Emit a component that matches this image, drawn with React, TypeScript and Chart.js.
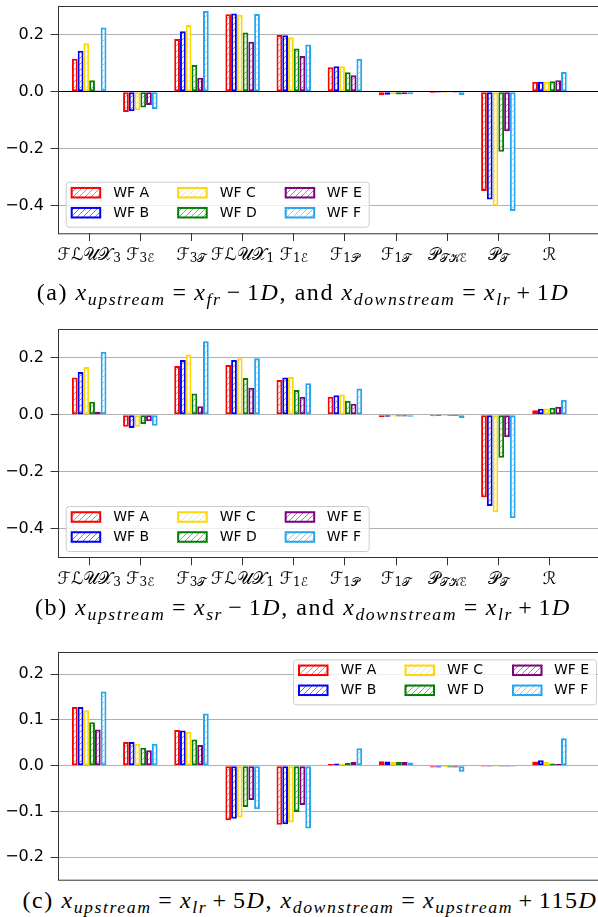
import React, { useEffect, useRef } from 'react';
import { Chart, registerables } from 'chart.js';
Chart.register(...registerables);

// ---------- data ----------
const catMain = ['ℱℒ𝒰𝒳', 'ℱ', 'ℱ', 'ℱℒ𝒰𝒳', 'ℱ', 'ℱ', 'ℱ', '𝒫', '𝒫', 'ℛ'];
const catSub = ['3', '3ℰ', '3𝒯', '1', '1ℰ', '1𝒫', '1𝒯', '𝒯𝒦ℰ', '𝒯', ''];
const seriesNames = ['WF A', 'WF B', 'WF C', 'WF D', 'WF E', 'WF F'];
const seriesColors = ['#ff0000', '#0000ff', '#ffd700', '#008000', '#800080', '#22a7f0'];

const aA = [0.116, -0.071, 0.185, 0.272, 0.199, 0.086, -0.012, -0.005, -0.348, 0.035];
const aB = [0.144, -0.069, 0.212, 0.274, 0.198, 0.089, -0.011, -0.004, -0.378, 0.035];
const aC = [0.170, -0.065, 0.234, 0.270, 0.191, 0.089, -0.009, -0.005, -0.401, 0.035];
const aD = [0.040, -0.055, 0.094, 0.208, 0.152, 0.068, -0.010, -0.003, -0.211, 0.037];
const aE = [0.004, -0.047, 0.049, 0.175, 0.125, 0.058, -0.009, -0.004, -0.139, 0.040];
const aF = [0.225, -0.061, 0.283, 0.273, 0.166, 0.116, -0.009, -0.012, -0.419, 0.069];

const bA = [0.131, -0.042, 0.171, 0.175, 0.122, 0.063, -0.008, -0.005, -0.289, 0.016];
const bB = [0.150, -0.046, 0.192, 0.192, 0.131, 0.069, -0.007, -0.004, -0.320, 0.021];
const bC = [0.168, -0.042, 0.212, 0.198, 0.133, 0.071, -0.006, -0.004, -0.342, 0.022];
const bD = [0.046, -0.032, 0.075, 0.129, 0.087, 0.049, -0.006, -0.004, -0.151, 0.025];
const bE = [0.011, -0.023, 0.030, 0.095, 0.063, 0.039, -0.006, -0.004, -0.079, 0.028];
const bF = [0.221, -0.038, 0.258, 0.198, 0.111, 0.092, -0.007, -0.011, -0.363, 0.053];

const cA = [0.128, 0.052, 0.078, -0.119, -0.129, 0.004, 0.0096, -0.004, -0.002, 0.009];
const cB = [0.128, 0.052, 0.077, -0.116, -0.128, 0.005, 0.009, -0.004, -0.002, 0.012];
const cC = [0.121, 0.048, 0.074, -0.113, -0.124, 0.005, 0.008, -0.003, -0.002, 0.008];
const cD = [0.095, 0.039, 0.057, -0.090, -0.101, 0.006, 0.008, -0.004, -0.002, 0.005];
const cE = [0.079, 0.034, 0.045, -0.075, -0.086, 0.008, 0.008, -0.004, -0.002, 0.004];
const cF = [0.162, 0.048, 0.114, -0.095, -0.137, 0.038, 0.007, -0.013, -0.002, 0.060];

const ticksAB = [-0.4, -0.2, 0, 0.2];
const ticksC = [-0.2, -0.1, 0, 0.1, 0.2];

// ---------- layout ----------
const CANVAS_W = 612;
const CHART_LEFT = 58.5;
const CHART_RIGHT = 603.2;
const X_MIN = -0.6;
const X_MAX = 10.05;

type PanelCfg = {
  top: number;
  height: number;
  chartTop: number;
  chartBottom: number;
  yMin: number;
  yMax: number;
  yTicks: number[];
  series: number[][];
  zeroBlack: boolean;
  showX: boolean;
  legendPos: 'll' | 'ur';
};

const panels: PanelCfg[] = [
  { top: 0, height: 272, chartTop: 5.7, chartBottom: 233, yMin: -0.4958, yMax: 0.3018, yTicks: ticksAB,
    series: [aA, aB, aC, aD, aE, aF], zeroBlack: true, showX: true, legendPos: 'll' },
  { top: 300, height: 296, chartTop: 329.3, chartBottom: 557.3, yMin: -0.5, yMax: 0.3, yTicks: ticksAB,
    series: [bA, bB, bC, bD, bE, bF], zeroBlack: false, showX: true, legendPos: 'll' },
  { top: 620, height: 264, chartTop: 652.3, chartBottom: 880, yMin: -0.2495, yMax: 0.2476, yTicks: ticksC,
    series: [cA, cB, cC, cD, cE, cF], zeroBlack: false, showX: false, legendPos: 'ur' },
];

function makeHatch(ctx: CanvasRenderingContext2D, color: string) {
  const t = document.createElement('canvas');
  t.width = 6; t.height = 6;
  const g = t.getContext('2d')!;
  g.fillStyle = '#ffffff';
  g.fillRect(0, 0, 6, 6);
  g.strokeStyle = color;
  g.globalAlpha = 0.55;
  g.lineWidth = 1;
  g.beginPath();
  g.moveTo(0, 6); g.lineTo(6, 0);
  g.moveTo(-1, 1); g.lineTo(1, -1);
  g.moveTo(5, 7); g.lineTo(7, 5);
  g.stroke();
  return ctx.createPattern(t, 'repeat')!;
}

const fmt = (v: number) => (v < 0 ? '\u2212' : '') + Math.abs(v).toFixed(1);

function Panel({ cfg }: { cfg: PanelCfg }) {
  const ref = useRef<HTMLCanvasElement>(null);
  useEffect(() => {
    const canvas = ref.current!;
    const ctx = canvas.getContext('2d')!;
    const patterns = seriesColors.map((c) => makeHatch(ctx, c));
    const chartTopRel = cfg.chartTop - cfg.top;
    const chartBottomRel = cfg.chartBottom - cfg.top;

    const framePlugin = {
      id: 'frame',
      afterDatasetsDraw(chart: any) {
        const { left, right, top, bottom } = chart.chartArea;
        const c = chart.ctx;
        c.save();
        c.strokeStyle = '#333333';
        c.lineWidth = 1;
        c.strokeRect(Math.round(left) + 0.5 - 1, Math.round(top) + 0.5, right - left, bottom - top);
        c.restore();
      },
    };

    const legendPlugin = {
      id: 'wfLegend',
      afterDraw(chart: any) {
        const ca = chart.chartArea;
        const c = chart.ctx;
        const bw = 303, bh = 45;
        let bx: number, by: number;
        if (cfg.legendPos === 'll') { bx = ca.left + 7.2; by = ca.bottom - 6.3 - bh; }
        else { bx = ca.right - 7.2 - bw; by = ca.top + 7; }
        c.save();
        c.fillStyle = 'rgba(255,255,255,0.8)';
        c.strokeStyle = '#cccccc';
        c.lineWidth = 1;
        c.beginPath();
        (c as any).roundRect(bx + 0.5, by + 0.5, bw, bh, 3);
        c.fill();
        c.stroke();
        const colSw = [5, 111.5, 219];
        const colTx = [47.5, 154, 261];
        const rows = [11, 31];
        c.font = '14px "DejaVu Sans"';
        c.textBaseline = 'middle';
        c.textAlign = 'left';
        for (let k = 0; k < seriesNames.length; k++) {
          const col = Math.floor(k / 2), row = k % 2;
          const sx = bx + colSw[col], sy = by + rows[row] - 5.75;
          c.fillStyle = patterns[k];
          c.fillRect(sx, sy, 30.5, 11.5);
          c.strokeStyle = seriesColors[k];
          c.lineWidth = 2;
          c.strokeRect(sx + 1, sy + 1, 28.5, 9.5);
          c.fillStyle = '#000000';
          c.fillText(seriesNames[k], bx + colTx[col], by + rows[row] + 0.5);
        }
        c.restore();
      },
    };

    const xLabelPlugin = {
      id: 'xLabels',
      afterDraw(chart: any) {
        if (!cfg.showX) return;
        const c = chart.ctx;
        const xs = chart.scales.x;
        const base = chart.chartArea.bottom + 26.5;
        c.save();
        c.fillStyle = '#000000';
        c.textBaseline = 'alphabetic';
        c.textAlign = 'left';
        const mainFont = '17px "DejaVu Serif", "DejaVu Sans", serif';
        const subFont = '12px "DejaVu Serif", "DejaVu Sans", serif';
        for (let i = 0; i < catMain.length; i++) {
          c.font = mainFont;
          const wm = c.measureText(catMain[i]).width;
          c.font = subFont;
          const ws = c.measureText(catSub[i]).width;
          const px = xs.getPixelForValue(i);
          const x0 = px - (wm + ws) / 2;
          c.font = mainFont;
          c.fillText(catMain[i], x0, base);
          c.font = subFont;
          c.fillText(catSub[i], x0 + wm, base + 2.5);
        }
        c.restore();
      },
    };

    const chart = new Chart(ctx, {
      type: 'bar',
      data: {
        datasets: cfg.series.map((vals, k) => ({
          label: seriesNames[k],
          data: vals.map((v, i) => ({ x: i, y: v })),
          backgroundColor: patterns[k],
          borderColor: seriesColors[k],
          borderWidth: 2,
          borderSkipped: false,
          categoryPercentage: 0.675,
          barPercentage: 1.0,
        })),
      },
      options: {
        animation: false,
        responsive: false,
        events: [],
        layout: {
          padding: { top: chartTopRel, bottom: 0, left: 0, right: CANVAS_W - CHART_RIGHT },
        },
        plugins: { legend: { display: false }, tooltip: { enabled: false }, title: { display: false } },
        scales: {
          x: {
            type: 'linear',
            min: X_MIN,
            max: X_MAX,
            offset: false,
            border: { display: false },
            grid: {
              display: cfg.showX,
              offset: false,
              drawOnChartArea: false,
              drawTicks: true,
              tickLength: 8,
              tickColor: '#333333',
              lineWidth: 1,
            },
            ticks: { display: false },
            afterBuildTicks: (s: any) => {
              s.ticks = catMain.map((_, i) => ({ value: i }));
            },
            afterFit: (s: any) => {
              s.height = cfg.height - chartBottomRel;
              s.paddingLeft = 0; s.paddingRight = 0;
            },
          },
          y: {
            type: 'linear',
            min: cfg.yMin,
            max: cfg.yMax,
            border: { display: false },
            grid: {
              color: (c: any) => (cfg.zeroBlack && c.tick && Math.abs(c.tick.value) < 1e-9 ? '#000000' : '#b0b0b0'),
              lineWidth: 1,
              drawTicks: true,
              tickLength: 8,
              tickColor: '#333333',
            },
            ticks: {
              color: '#000000',
              padding: 6.5,
              font: { family: '"DejaVu Sans"', size: 16 },
              callback: (v: any) => fmt(Number(v)),
            },
            afterBuildTicks: (s: any) => {
              s.ticks = cfg.yTicks.map((v) => ({ value: v }));
            },
            afterFit: (s: any) => {
              s.width = CHART_LEFT;
              s.paddingTop = 0; s.paddingBottom = 0;
            },
          },
        },
      },
      plugins: [framePlugin, legendPlugin, xLabelPlugin],
    } as any);
    return () => chart.destroy();
  }, [cfg]);
  return (
    <canvas
      ref={ref}
      width={CANVAS_W}
      height={cfg.height}
      style={{ position: 'absolute', left: 0, top: cfg.top, width: CANVAS_W, height: cfg.height }}
    />
  );
}

const serif = '"Liberation Serif", "DejaVu Serif", serif';

function Sub({ children }: { children: React.ReactNode }) {
  return (
    <span style={{ fontSize: '0.74em', position: 'relative', top: '0.3em', fontStyle: 'italic' }}>{children}</span>
  );
}
function X({ s }: { s: string }) {
  return (
    <span>
      <i>x</i>
      <Sub>{s}</Sub>
    </span>
  );
}
function Op({ c, w }: { c: string; w: number }) {
  return <span style={{ margin: `0 ${w}em` }}>{c}</span>;
}

function Caption({ y, shift, children }: { y: number; shift: number; children: React.ReactNode }) {
  return (
    <div
      style={{
        position: 'absolute', left: 0, width: 598, top: y - 14, height: 28, lineHeight: '28px',
        display: 'flex', justifyContent: 'center', whiteSpace: 'nowrap',
        fontFamily: serif, fontSize: 24, letterSpacing: '0.065em', color: '#000',
      }}
    >
      <span style={{ flex: 'none', marginLeft: shift }}>{children}</span>
    </div>
  );
}

export default function App() {
  return (
    <div style={{ position: 'absolute', left: 0, top: 0, width: 598, height: 917, overflow: 'hidden', background: '#fff' }}>
      {panels.map((p, i) => (
        <Panel key={i} cfg={p} />
      ))}
      <Caption y={292} shift={8}>
        (a) <X s="upstream" /><Op c="=" w={0.28} /><X s="fr" /><Op c="−" w={0.22} />1<i>D</i>, and <X s="downstream" /><Op c="=" w={0.28} /><X s="lr" /><Op c="+" w={0.22} />1<i>D</i>
      </Caption>
      <Caption y={607} shift={8}>
        (b) <X s="upstream" /><Op c="=" w={0.28} /><X s="sr" /><Op c="−" w={0.22} />1<i>D</i>, and <X s="downstream" /><Op c="=" w={0.28} /><X s="lr" /><Op c="+" w={0.22} />1<i>D</i>
      </Caption>
      <Caption y={900} shift={22}>
        (c) <X s="upstream" /><Op c="=" w={0.28} /><X s="lr" /><Op c="+" w={0.22} />5<i>D</i>, <X s="downstream" /><Op c="=" w={0.28} /><X s="upstream" /><Op c="+" w={0.22} />115<i>D</i>
      </Caption>
    </div>
  );
}
